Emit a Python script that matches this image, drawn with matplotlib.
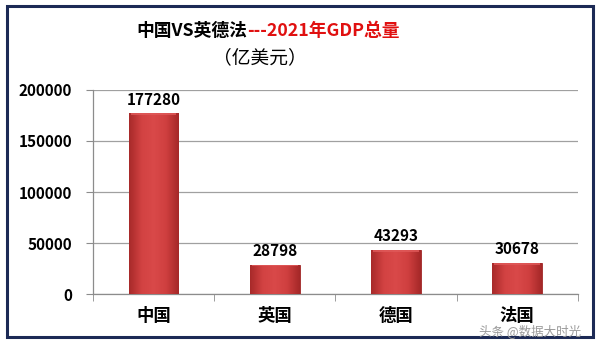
import numpy as np
import matplotlib.pyplot as plt
from matplotlib.patches import Rectangle
from matplotlib.colors import LinearSegmentedColormap

plt.rcParams['font.family'] = ['Noto Sans CJK SC', 'DejaVu Sans']

countries = ['中国', '英国', '德国', '法国']
gdp = [177280, 28798, 43293, 30678]
yticks = [0, 50000, 100000, 150000, 200000]

fig = plt.figure(figsize=(6, 3.44), dpi=100)
ax = fig.add_axes([0.155, 0.1453, 0.808, 0.5931])

x = np.arange(len(countries))
bars = ax.bar(x, gdp, width=0.41, color='#C83A3A', edgecolor='#9E2626', linewidth=0.6, zorder=3)

# Schattierung der Balken (horizontaler Verlauf)
cmap = LinearSegmentedColormap.from_list('bar', ['#A82A2A', '#D24242', '#D94949', '#CF3F3F', '#A52828'])
grad = np.linspace(0, 1, 64).reshape(1, -1)
for b in bars:
    x0, w, h = b.get_x(), b.get_width(), b.get_height()
    im = ax.imshow(grad, cmap=cmap, aspect='auto', extent=[x0, x0 + w, 0, h], zorder=3.5)
    im.set_clip_path(b)
    # heller oberer Rand
    ax.add_patch(Rectangle((x0 + w * 0.04, h - 1800), w * 0.92, 1800, color='#E05A5A',
                           alpha=0.8, zorder=3.6, lw=0))

for xi, v in zip(x, gdp):
    ax.annotate(str(v), (xi, v), xytext=(0, 4), textcoords='offset points',
                ha='center', va='bottom', fontsize=11, fontweight='bold', zorder=5)

ax.set_xlim(-0.5, len(countries) - 0.5)
ax.set_ylim(0, 200000)
ax.set_yticks(yticks)
ax.set_yticklabels([str(t) for t in yticks], fontsize=11, fontweight='bold')
ax.set_xticks(x)
ax.set_xticklabels(countries, fontsize=12.5, fontweight='bold')
ax.set_xticks(np.arange(-0.5, len(countries)), minor=True)
ax.tick_params(axis='x', which='major', length=0, pad=9)
ax.tick_params(axis='x', which='minor', length=5, color='#8C8C8C', direction='out')
ax.tick_params(axis='y', length=5, color='#8C8C8C', pad=10)
ax.yaxis.grid(True, color='#A0A0A0', linewidth=0.9, zorder=0)
ax.set_axisbelow(True)
for s in ['top', 'right']:
    ax.spines[s].set_visible(False)
for s in ['left', 'bottom']:
    ax.spines[s].set_color('#8C8C8C')
    ax.spines[s].set_linewidth(0.9)

# Titel zweifarbig
fig.text(247 / 600, 1 - 31 / 344, '中国VS英德法', ha='right', va='center',
         fontsize=12.8, fontweight='bold', color='black')
fig.text(247 / 600, 1 - 31 / 344, '---2021年GDP总量', ha='left', va='center',
         fontsize=12.8, fontweight='bold', color='#E01010')
fig.text(260 / 600, 1 - 58 / 344, '（亿美元）', ha='center', va='center',
         fontsize=13.5, color='black')

# Wasserzeichen
fig.text(530 / 600, 1 - 331 / 344, '头条 @数据大时光', ha='center', va='center',
         fontsize=9, color='#9A9A9A')

# Rahmen
fig.patches.append(Rectangle((7 / 600, 7 / 344), 586 / 600, 331 / 344, transform=fig.transFigure,
                             fill=False, edgecolor='#1C2A55', linewidth=2.2))

fig.savefig('out.png', dpi=100, facecolor='white')
